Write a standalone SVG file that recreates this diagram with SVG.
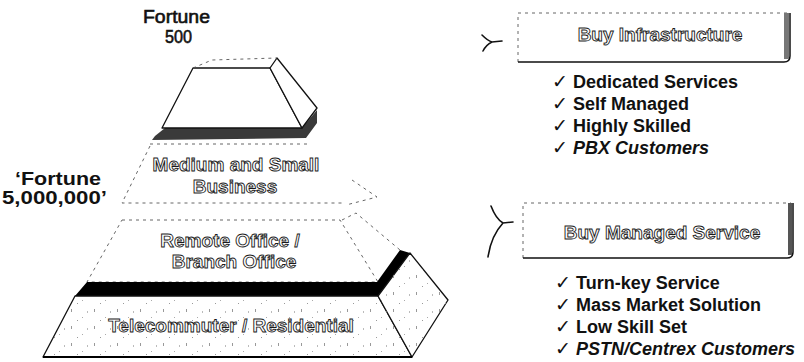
<svg xmlns="http://www.w3.org/2000/svg" width="804" height="362" viewBox="0 0 804 362">
  <defs>
    <style>
      .lbl { font-family: "Liberation Sans", Arial, sans-serif; font-weight: bold; font-size: 19px; fill: #111; }
      .plain { font-family: "Liberation Sans", Arial, sans-serif; font-size: 18px; fill: #111; stroke: #111; stroke-width: 0.6; }
      .outl { font-family: "Liberation Sans", Arial, sans-serif; font-weight: bold; font-size: 19px; fill: #fff; stroke: #1a1a1a; stroke-width: 0.9; text-anchor: middle; }
      .chk { font-family: "DejaVu Sans", sans-serif; font-size: 19px; fill: #111; }
      .item { font-family: "Liberation Sans", Arial, sans-serif; font-weight: bold; font-size: 18px; fill: #111; }
      .ital { font-style: italic; }
      .edge { fill: #fff; stroke: #111; stroke-width: 1.3; stroke-linejoin: round; }
      .faint { fill: none; stroke: #555; stroke-width: 0.9; stroke-dasharray: 3 4; }
      .arrow { fill: none; stroke: #111; stroke-width: 1.6; stroke-linecap: round; }
    </style>
    <pattern id="stip" width="23" height="17" patternUnits="userSpaceOnUse">
      <rect x="2" y="3" width="1" height="3" fill="#999"/>
      <rect x="13" y="11" width="1" height="1" fill="#aaa"/>
      <rect x="18" y="5" width="1" height="2" fill="#bbb"/>
      <rect x="8" y="14" width="1" height="1" fill="#999"/>
    </pattern>
  </defs>

  <!-- Side labels -->
  <g id="label-fortune500">
    <text class="plain" x="143" y="23" textLength="67" lengthAdjust="spacingAndGlyphs">Fortune</text>
    <text class="plain" x="165" y="43" textLength="27" lengthAdjust="spacingAndGlyphs">500</text>
  </g>
  <g id="label-fortune5m">
    <text class="lbl" x="15" y="185" textLength="86" lengthAdjust="spacingAndGlyphs">‘Fortune</text>
    <text class="lbl" x="2" y="204" textLength="105" lengthAdjust="spacingAndGlyphs">5,000,000’</text>
  </g>

  <!-- Tier 1: Fortune 500 block -->
  <g id="tier-fortune500">
    <polygon points="155,136 165,128 302,128 317,110 317,123 306,138 152,140" fill="#3a3a3a"/>
    <polygon class="edge" points="193,68 270,68 302,128 162,128"/>
    <polygon class="edge" points="270,68 277,58 317,108 302,128"/>
    <polyline class="faint" points="193,68 212,60 277,58"/>
    <line class="faint" x1="150" y1="144" x2="310" y2="144"/>
  </g>

  <!-- Tier 2: Medium and Small Business -->
  <g id="tier-medium">
    <polyline class="faint" points="150,146 122,203 343,203"/>
    <polyline class="faint" points="352,180 377,197 346,205"/>
    <text class="outl" x="236" y="171">Medium and Small</text>
    <text class="outl" x="235" y="193">Business</text>
  </g>

  <!-- Tier 3: Remote Office / Branch Office -->
  <g id="tier-remote">
    <polygon points="122,220 340,220 378,282 87,282" fill="#fff" stroke="#555" stroke-width="0.9" stroke-dasharray="3 4"/>
    <polyline class="faint" points="342,220 356,213 400,250"/>
    <text class="outl" x="230" y="247">Remote Office /</text>
    <text class="outl" x="234" y="268">Branch Office</text>
  </g>

  <!-- Tier 4: Telecommuter / Residential -->
  <g id="tier-telecommuter">
    <polygon points="87,282 377,282 400,250 410,253 378,296 75,296" fill="#000"/>
    <polygon class="edge" points="75,296 378,296 412,357 43,357"/>
    <polygon points="75,296 378,296 412,357 43,357" fill="url(#stip)"/>
    <polygon class="edge" points="378,296 410,253 448,300 412,357"/>
    <polygon points="378,296 410,253 448,300 412,357" fill="url(#stip)"/>
    <line x1="43" y1="357" x2="412" y2="357" stroke="#000" stroke-width="2"/>
    <text class="outl" x="231" y="332">Telecommuter / Residential</text>
  </g>

  <!-- Boxes -->
  <g id="box-infrastructure">
    <rect x="518" y="13" width="270" height="49" fill="#fff"/>
    <polyline class="faint" points="518,62 518,13 788,13"/>
    <path d="M518,62 H784 Q790,62 790,56 V13" fill="none" stroke="#111" stroke-width="1.5"/>
    <rect x="784" y="13" width="5" height="46" fill="#777"/>
    <text class="outl" x="660" y="41" font-size="18">Buy Infrastructure</text>
  </g>
  <g id="box-managed">
    <rect x="523" y="203" width="270" height="55" fill="#fff"/>
    <polyline class="faint" points="523,258 523,203 791,203"/>
    <path d="M523,258 H787 Q793,258 793,252 V203" fill="none" stroke="#111" stroke-width="1.5"/>
    <rect x="788" y="203" width="4" height="52" fill="#555"/>
    <text class="outl" x="662" y="239" font-size="18">Buy Managed Service</text>
  </g>

  <!-- Check lists -->
  <g id="list-infrastructure">
    <text class="chk" x="552" y="88">✓</text><text class="item" x="573" y="88">Dedicated Services</text>
    <text class="chk" x="552" y="110">✓</text><text class="item" x="573" y="110">Self Managed</text>
    <text class="chk" x="552" y="132">✓</text><text class="item" x="573" y="132">Highly Skilled</text>
    <text class="chk" x="552" y="154">✓</text><text class="item ital" x="573" y="154">PBX Customers</text>
  </g>
  <g id="list-managed">
    <text class="chk" x="555" y="289">✓</text><text class="item" x="576" y="289">Turn-key Service</text>
    <text class="chk" x="555" y="311">✓</text><text class="item" x="576" y="311">Mass Market Solution</text>
    <text class="chk" x="555" y="333">✓</text><text class="item" x="576" y="333">Low Skill Set</text>
    <text class="chk" x="555" y="355">✓</text><text class="item ital" x="576" y="355">PSTN/Centrex Customers</text>
  </g>

  <!-- Connectors -->
  <g id="connectors">
    <path class="arrow" d="M482,35 Q488,41 492,42 L502,41 M492,42 Q486,45 483,51"/>
    <path class="arrow" d="M491,206 Q496,219 503,223 L513,222 M503,223 Q491,236 488,257"/>
  </g>
</svg>
